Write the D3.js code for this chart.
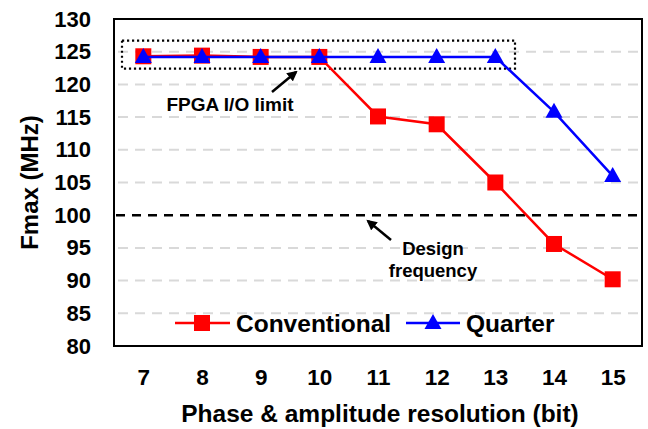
<!DOCTYPE html>
<html>
<head>
<meta charset="utf-8">
<script src="https://cdn.jsdelivr.net/npm/d3@7"></script>
<style>
  body { margin: 0; background: #fff; }
  text { font-family: "Liberation Sans", Arial, sans-serif; font-weight: bold; }
</style>
</head>
<body>
<figure id="chart" style="margin:0"></figure>
<script>
// bit resolution categories
const bits = ["7", "8", "9", "10", "11", "12", "13", "14", "15"];
const conventional = [124.3, 124.4, 124.2, 124.2, 115.1, 113.9, 105.0, 95.6, 90.2];
const quarter = [124.2, 124.2, 124.2, 124.2, 124.2, 124.2, 124.2, 115.8, 106.0];
const yTicks = [80, 85, 90, 95, 100, 105, 110, 115, 120, 125, 130];
const designFreq = 100;

const width = 648, height = 429;
const margin = {top: 19, right: 6, bottom: 83, left: 114};

const svg = d3.select("figure#chart")
  .append("svg")
  .attr("width", width)
  .attr("height", height);

const x = d3.scalePoint()
  .domain(bits)
  .range([margin.left, width - margin.right])
  .padding(0.5);

const y = d3.scaleLinear()
  .domain([80, 130])
  .range([height - margin.bottom, margin.top]);

// grid lines (dashed light gray), skip 80, 100 and 130
svg.append("g")
  .selectAll("line")
  .data(yTicks.filter(d => d !== 80 && d !== 130 && d !== designFreq))
  .enter()
  .append("line")
  .attr("x1", margin.left + 4)
  .attr("x2", width - margin.right - 4)
  .attr("y1", d => y(d))
  .attr("y2", d => y(d))
  .attr("stroke", "#d9d9d9")
  .attr("stroke-width", 2)
  .attr("stroke-dasharray", "10,7");

// design frequency line
svg.append("line")
  .attr("x1", margin.left + 2)
  .attr("x2", width - margin.right - 2)
  .attr("y1", y(designFreq))
  .attr("y2", y(designFreq))
  .attr("stroke", "#000")
  .attr("stroke-width", 2.5)
  .attr("stroke-dasharray", "9,7");

// y axis labels
const yAxis = svg.append("g")
  .attr("transform", "translate(" + margin.left + ",0)")
  .call(d3.axisLeft(y).tickValues(yTicks).tickSize(0).tickPadding(23));
yAxis.select(".domain").remove();
yAxis.selectAll("text")
  .style("font-size", "22px")
  .style("font-family", "'Liberation Sans', Arial, sans-serif")
  .style("font-weight", "bold")
  .attr("fill", "#000");

// x axis labels
const xAxis = svg.append("g")
  .attr("transform", "translate(0," + (height - margin.bottom) + ")")
  .call(d3.axisBottom(x).tickSize(0).tickPadding(23));
xAxis.select(".domain").remove();
xAxis.selectAll("text")
  .style("font-size", "22.5px")
  .style("font-family", "'Liberation Sans', Arial, sans-serif")
  .style("font-weight", "bold")
  .attr("fill", "#000");

// axis titles
svg.append("text")
  .attr("x", 380)
  .attr("y", 422)
  .style("text-anchor", "middle")
  .style("font-size", "24.5px")
  .text("Phase & amplitude resolution (bit)");

svg.append("text")
  .attr("transform", "translate(38," + ((margin.top + height - margin.bottom) / 2) + ") rotate(-90)")
  .style("text-anchor", "middle")
  .style("font-size", "24px")
  .text("Fmax (MHz)");

// I/O limit dotted box
svg.append("rect")
  .attr("x", 122)
  .attr("y", y(126.7))
  .attr("width", 393)
  .attr("height", y(122.4) - y(126.7))
  .attr("fill", "none")
  .attr("stroke", "#000")
  .attr("stroke-width", 2.2)
  .attr("stroke-dasharray", "2.2,2.8");

// arrow marker
svg.append("defs").append("marker")
  .attr("id", "arrow")
  .attr("viewBox", "0 0 10 10")
  .attr("refX", 8)
  .attr("refY", 5)
  .attr("markerWidth", 4.2)
  .attr("markerHeight", 4.2)
  .attr("markerUnits", "strokeWidth")
  .attr("orient", "auto")
  .append("path")
  .attr("d", "M0,0 L10,5 L0,10 z")
  .attr("fill", "#000");

svg.append("line")
  .attr("x1", 272).attr("y1", 92)
  .attr("x2", 296).attr("y2", 72)
  .attr("stroke", "#000")
  .attr("stroke-width", 2.5)
  .attr("marker-end", "url(#arrow)");

svg.append("text")
  .attr("x", 230)
  .attr("y", 111)
  .style("text-anchor", "middle")
  .style("font-size", "19px")
  .text("FPGA I/O limit");

svg.append("line")
  .attr("x1", 391).attr("y1", 240)
  .attr("x2", 368).attr("y2", 221)
  .attr("stroke", "#000")
  .attr("stroke-width", 2.5)
  .attr("marker-end", "url(#arrow)");

svg.append("text")
  .attr("x", 433)
  .attr("y", 255)
  .style("text-anchor", "middle")
  .style("font-size", "18.5px")
  .text("Design");
svg.append("text")
  .attr("x", 433)
  .attr("y", 277)
  .style("text-anchor", "middle")
  .style("font-size", "18.5px")
  .text("frequency");

// series
const line = d3.line()
  .x((d, i) => x(bits[i]))
  .y(d => y(d));

svg.append("path")
  .datum(conventional)
  .attr("fill", "none")
  .attr("stroke", "#ff0000")
  .attr("stroke-width", 2.5)
  .attr("d", line);

svg.append("g")
  .selectAll("rect")
  .data(conventional)
  .enter()
  .append("rect")
  .attr("x", (d, i) => x(bits[i]) - 8)
  .attr("y", d => y(d) - 8)
  .attr("width", 16)
  .attr("height", 16)
  .attr("fill", "#ff0000");

svg.append("path")
  .datum(quarter)
  .attr("fill", "none")
  .attr("stroke", "#0000ff")
  .attr("stroke-width", 2.5)
  .attr("d", line);

const tri = "M0,-9 L8.5,6 L-8.5,6 Z";
svg.append("g")
  .selectAll("path")
  .data(quarter)
  .enter()
  .append("path")
  .attr("d", tri)
  .attr("transform", (d, i) => "translate(" + x(bits[i]) + "," + y(d) + ")")
  .attr("fill", "#0000ff");

// legend
const legendY = 323;
const legend = svg.append("g");
legend.append("line")
  .attr("x1", 175).attr("x2", 230)
  .attr("y1", legendY).attr("y2", legendY)
  .attr("stroke", "#ff0000").attr("stroke-width", 2.5);
legend.append("rect")
  .attr("x", 194).attr("y", legendY - 8)
  .attr("width", 16).attr("height", 16)
  .attr("fill", "#ff0000");
legend.append("text")
  .attr("x", 236).attr("y", legendY + 8.5)
  .style("font-size", "24.5px")
  .text("Conventional");
legend.append("line")
  .attr("x1", 406).attr("x2", 460)
  .attr("y1", legendY).attr("y2", legendY)
  .attr("stroke", "#0000ff").attr("stroke-width", 2.5);
legend.append("path")
  .attr("d", tri)
  .attr("transform", "translate(433," + legendY + ")")
  .attr("fill", "#0000ff");
legend.append("text")
  .attr("x", 466).attr("y", legendY + 8.5)
  .style("font-size", "24.5px")
  .text("Quarter");

// plot frame
svg.append("rect")
  .attr("x", margin.left)
  .attr("y", margin.top)
  .attr("width", width - margin.left - margin.right)
  .attr("height", height - margin.top - margin.bottom)
  .attr("fill", "none")
  .attr("stroke", "#000")
  .attr("stroke-width", 2);
</script>
</body>
</html>
